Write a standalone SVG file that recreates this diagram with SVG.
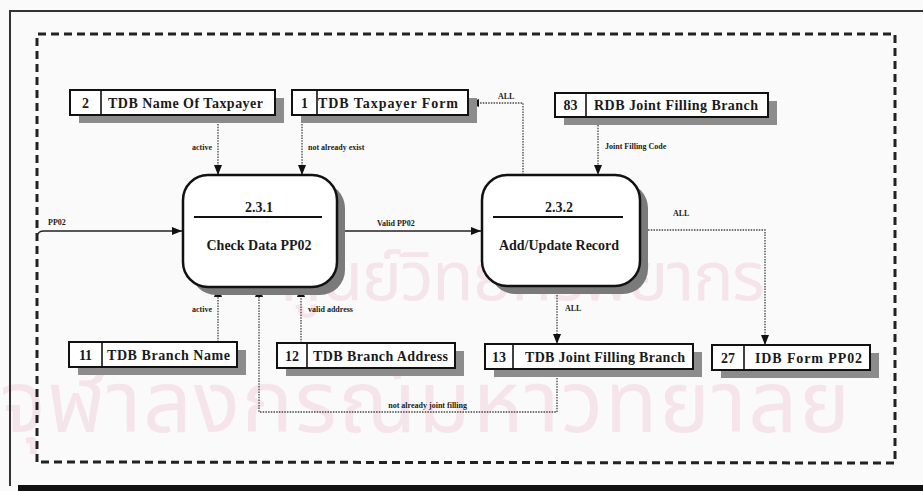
<svg xmlns="http://www.w3.org/2000/svg" width="923" height="491" viewBox="0 0 923 491">
<defs>
<style>
.bg{fill:#fafafa}
.wm{fill:#f5e4e9;font-family:"Noto Sans Thai","Noto Sans","DejaVu Sans",sans-serif}
.store{fill:#ffffff;stroke:#111;stroke-width:2}
.shadow{fill:#8c8c8c}
.div{stroke:#111;stroke-width:1.6}
.proc{fill:#ffffff;stroke:#111;stroke-width:2.5}
.pshadow{fill:#7a7a7a}
.t{font-family:"Liberation Serif","Times New Roman",serif;font-weight:bold;fill:#1a1a1a}
.big{font-size:14px}
.small{font-size:8px}
.dot{fill:none;stroke:#444;stroke-width:1.3;stroke-dasharray:1.5 1.2}
.solid{fill:none;stroke:#222;stroke-width:1.4}
.frame{fill:none;stroke:#222;stroke-width:3;stroke-dasharray:8 5}
</style>
<marker id="ah" viewBox="0 0 10 8" refX="10" refY="4" markerWidth="10" markerHeight="8" markerUnits="userSpaceOnUse" orient="auto">
<path d="M0,0 L10,4 L0,8 z" fill="#111"/>
</marker>
</defs>
<rect class="bg" x="0" y="0" width="923" height="491"/>
<g id="watermark">
<text class="wm" x="522" y="300" font-size="68" text-anchor="middle" textLength="485">ศูนย์วิทยทรัพยากร</text>
<text class="wm" x="425" y="432" font-size="86" text-anchor="middle" textLength="850">จุฬาลงกรณ์มหาวิทยาลัย</text>
</g>
<g id="page-border">
<path d="M10,486 L10,11 L923,11" fill="none" stroke="#333" stroke-width="2"/>
<rect x="18" y="485" width="905" height="6" fill="#111"/>
<path class="frame" d="M37,462 L37,34 L895,34 L895,463 Z"/>
</g>
<g id="connectors">
<path class="solid" d="M37,236 Q38,231 44,231 L182,231" marker-end="url(#ah)"/>
<path class="solid" d="M337,231 L481,231" marker-end="url(#ah)"/>
<path class="dot" d="M218,116 L218,175" marker-end="url(#ah)"/>
<path class="dot" d="M302,116 L302,175" marker-end="url(#ah)"/>
<path class="dot" d="M523,175 L523,103 L469,103" marker-end="url(#ah)"/>
<path class="dot" d="M598,117 L598,175" marker-end="url(#ah)"/>
<path class="dot" d="M640,230 L765,230 L765,345" marker-end="url(#ah)"/>
<path class="dot" d="M557,287 L557,344" marker-end="url(#ah)"/>
<path class="dot" d="M218,342 L218,287" marker-end="url(#ah)"/>
<path class="dot" d="M301,343 L301,287" marker-end="url(#ah)"/>
<path class="dot" d="M557,370 L557,412 L259,412 L259,287" marker-end="url(#ah)"/>
<text class="t small" x="48" y="225">PP02</text>
<text class="t small" x="377" y="226">Valid PP02</text>
<text class="t small" x="212" y="150" text-anchor="end">active</text>
<text class="t small" x="308" y="150">not already exist</text>
<text class="t small" x="498" y="99">ALL</text>
<text class="t small" x="605" y="149">Joint Filling Code</text>
<text class="t small" x="673" y="216">ALL</text>
<text class="t small" x="565" y="311">ALL</text>
<text class="t small" x="212" y="312" text-anchor="end">active</text>
<text class="t small" x="308" y="312">valid address</text>
<text class="t small" x="467" y="408" text-anchor="end">not already joint filling</text>
</g>
<g id="p231">
<rect class="pshadow" x="191" y="183" width="154" height="112" rx="25"/>
<rect class="proc" x="183" y="175" width="154" height="112" rx="25"/>
<text class="t big" x="259" y="212" text-anchor="middle">2.3.1</text>
<line x1="194" y1="217" x2="322" y2="217" stroke="#111" stroke-width="2"/>
<text class="t big" x="259" y="250" text-anchor="middle">Check Data PP02</text>
</g>
<g id="p232">
<rect class="pshadow" x="490" y="183" width="158" height="111" rx="25"/>
<rect class="proc" x="482" y="175" width="158" height="111" rx="25"/>
<text class="t big" x="559" y="212" text-anchor="middle">2.3.2</text>
<line x1="493" y1="217" x2="623" y2="217" stroke="#111" stroke-width="2"/>
<text class="t big" x="559" y="250" text-anchor="middle">Add/Update Record</text>
</g>
<g id="ds2">
<rect class="shadow" x="79" y="98" width="205" height="25"/>
<rect class="store" x="70" y="90" width="205" height="25"/>
<line class="div" x1="101" y1="90" x2="101" y2="115"/>
<text class="t big" x="85.5" y="107.5" text-anchor="middle">2</text>
<text class="t big" x="108" y="107.5" textLength="155">TDB Name Of Taxpayer</text>
</g>
<g id="ds1">
<rect class="shadow" x="301" y="98" width="176" height="25"/>
<rect class="store" x="292" y="90" width="176" height="25"/>
<line class="div" x1="317" y1="90" x2="317" y2="115"/>
<text class="t big" x="304.5" y="107.5" text-anchor="middle">1</text>
<text class="t big" x="318" y="107.5" textLength="140">TDB Taxpayer Form</text>
</g>
<g id="ds83">
<rect class="shadow" x="564" y="101" width="213" height="24"/>
<rect class="store" x="555" y="93" width="213" height="24"/>
<line class="div" x1="586" y1="93" x2="586" y2="117"/>
<text class="t big" x="570.5" y="110" text-anchor="middle">83</text>
<text class="t big" x="594" y="110" textLength="164">RDB Joint Filling Branch</text>
</g>
<g id="ds11">
<rect class="shadow" x="78" y="350" width="168" height="25"/>
<rect class="store" x="69" y="342" width="168" height="25"/>
<line class="div" x1="102" y1="342" x2="102" y2="367"/>
<text class="t big" x="85.5" y="359.5" text-anchor="middle">11</text>
<text class="t big" x="107" y="359.5" textLength="123">TDB Branch Name</text>
</g>
<g id="ds12">
<rect class="shadow" x="286" y="351" width="178" height="25"/>
<rect class="store" x="277" y="343" width="178" height="25"/>
<line class="div" x1="307" y1="343" x2="307" y2="368"/>
<text class="t big" x="292" y="360.5" text-anchor="middle">12</text>
<text class="t big" x="313" y="360.5" textLength="135">TDB Branch Address</text>
</g>
<g id="ds13">
<rect class="shadow" x="494" y="352" width="208" height="25"/>
<rect class="store" x="485" y="344" width="208" height="25"/>
<line class="div" x1="513" y1="344" x2="513" y2="369"/>
<text class="t big" x="499" y="361.5" text-anchor="middle">13</text>
<text class="t big" x="525" y="361.5" textLength="160">TDB Joint Filling Branch</text>
</g>
<g id="ds27">
<rect class="shadow" x="721" y="353" width="158" height="25"/>
<rect class="store" x="712" y="345" width="158" height="25"/>
<line class="div" x1="744" y1="345" x2="744" y2="370"/>
<text class="t big" x="728" y="362.5" text-anchor="middle">27</text>
<text class="t big" x="755" y="362.5" textLength="107">IDB Form PP02</text>
</g>
</svg>
